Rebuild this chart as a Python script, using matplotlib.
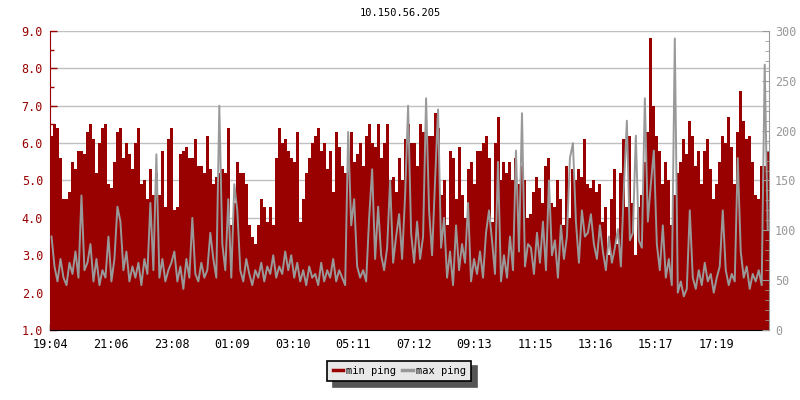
"""
Ping-Verlauf 10.150.56.205 (min / max ping) über 24 h
"""
import numpy as np
import matplotlib
matplotlib.use('Agg')
from matplotlib import pyplot as plt
from matplotlib.ticker import MultipleLocator, FormatStrFormatter

# min ping, ein Wert je 6 min (linke Achse)
min_ping_1 = [6.2, 6.5, 6.4, 5.6, 4.5, 4.5, 4.7, 5.5, 5.3, 5.8, 5.8, 5.7, 6.3, 6.5, 6.1, 5.2, 6.0, 6.4, 6.5, 4.9,
              4.8, 5.5, 6.3, 6.4, 5.6, 6.0, 5.7, 5.3, 6.0, 6.4, 4.9, 5.0, 4.5, 5.3, 4.6, 5.2, 4.6, 5.8, 4.3, 6.1]
min_ping_2 = [6.4, 4.2, 4.3, 5.7, 5.8, 5.9, 5.6, 5.6, 6.1, 5.4, 5.4, 5.2, 6.2, 5.3, 4.9, 5.1, 5.2, 5.3, 5.2, 6.4,
              3.8, 4.4, 5.5, 5.2, 5.2, 4.9, 3.8, 3.5, 3.3, 3.8, 4.5, 4.3, 3.9, 4.3, 3.8, 5.6, 6.4, 6.0, 6.1, 5.8]
min_ping_3 = [5.6, 5.5, 6.3, 3.9, 4.5, 5.2, 5.6, 6.0, 6.2, 6.4, 5.8, 6.0, 5.3, 5.8, 4.7, 6.3, 5.9, 5.4, 5.2, 5.5,
              6.3, 5.5, 5.7, 6.0, 5.4, 6.2, 6.5, 6.0, 5.9, 6.5, 5.6, 6.0, 6.5, 5.0, 5.1, 4.7, 5.6, 5.0, 6.1, 6.5]
min_ping_4 = [6.0, 6.0, 5.4, 6.5, 6.3, 6.1, 6.2, 6.2, 6.8, 6.4, 4.6, 5.0, 3.8, 5.8, 5.6, 4.5, 5.9, 4.6, 4.0, 5.3,
              5.5, 4.9, 5.8, 5.8, 6.0, 6.2, 5.6, 3.9, 6.0, 6.7, 5.0, 5.5, 5.2, 5.5, 5.0, 5.6, 4.9, 5.4, 5.0, 4.0]
min_ping_5 = [4.1, 4.7, 5.1, 4.8, 4.4, 5.4, 5.6, 4.4, 4.3, 5.0, 4.5, 3.8, 5.4, 4.0, 5.3, 5.0, 5.3, 5.1, 6.1, 4.9,
              4.8, 5.0, 4.7, 4.9, 3.9, 4.3, 3.0, 4.5, 5.3, 3.3, 5.2, 6.1, 4.3, 6.2, 4.4, 3.0, 4.3, 4.6, 5.5, 6.3]
min_ping_6 = [8.8, 7.0, 6.2, 5.8, 4.9, 5.5, 5.0, 3.8, 4.6, 5.2, 5.5, 6.1, 5.7, 6.6, 6.2, 5.4, 5.8, 4.9, 5.8, 6.1,
              5.3, 4.5, 4.9, 5.5, 6.2, 6.0, 6.7, 5.9, 4.9, 6.3, 7.4, 6.6, 6.1, 6.2, 5.5, 4.6, 4.5, 5.4, 5.4, 5.8]

# max ping, gleiche Zeitpunkte
max_ping_1 = [3.5, 2.7, 2.3, 2.9, 2.4, 2.2, 2.8, 2.5, 3.1, 2.4, 4.6, 2.6, 2.8, 3.3, 2.3, 2.9, 2.2, 2.6, 2.4, 3.5,
              2.3, 2.9, 4.3, 3.9, 2.6, 3.1, 2.3, 2.7, 2.4, 2.8, 2.2, 2.9, 2.5, 4.4, 2.6, 5.7, 2.4, 2.9, 2.3, 2.6]
max_ping_2 = [2.8, 3.1, 2.3, 2.7, 2.1, 2.9, 2.4, 4.0, 2.5, 2.3, 2.8, 2.4, 2.6, 3.6, 2.9, 2.4, 7.0, 3.3, 2.6, 4.5,
              2.4, 4.9, 4.2, 2.6, 2.3, 2.9, 2.5, 2.2, 2.6, 2.4, 2.8, 2.3, 2.7, 2.5, 3.0, 2.4, 2.7, 2.5, 3.1, 2.6]
max_ping_3 = [3.0, 2.4, 2.8, 2.3, 2.6, 2.2, 2.7, 2.4, 2.5, 2.2, 2.8, 2.3, 2.6, 2.4, 2.9, 2.3, 2.6, 2.4, 2.2, 6.3,
              3.8, 4.5, 2.7, 2.4, 2.6, 2.3, 4.0, 5.3, 2.9, 4.3, 3.0, 2.6, 3.2, 5.0, 2.8, 3.5, 4.1, 2.9, 4.6, 7.0]
max_ping_4 = [3.6, 2.8, 3.9, 2.9, 3.5, 7.2, 4.2, 3.0, 5.0, 6.9, 3.2, 4.0, 2.4, 3.1, 2.2, 3.8, 2.6, 3.3, 2.8, 4.4,
              2.3, 2.9, 2.5, 3.1, 2.4, 3.6, 4.2, 3.4, 2.5, 5.5, 2.3, 3.0, 2.4, 3.5, 2.6, 5.8, 3.1, 6.8, 2.7, 3.3]
max_ping_5 = [3.2, 2.5, 3.6, 2.8, 3.9, 2.6, 5.0, 3.0, 3.4, 2.4, 3.8, 2.9, 3.5, 5.6, 6.0, 3.9, 2.8, 4.2, 3.5, 3.6,
              4.1, 3.3, 2.9, 3.8, 3.1, 2.6, 3.5, 2.8, 3.2, 3.7, 2.7, 4.8, 6.6, 3.4, 3.6, 6.2, 3.4, 3.2, 7.2, 3.9]
max_ping_6 = [4.9, 5.8, 3.3, 2.6, 3.8, 2.4, 2.9, 2.2, 8.8, 2.0, 2.3, 1.9, 2.1, 4.2, 2.4, 2.1, 2.6, 2.2, 2.8, 2.3,
              2.5, 2.0, 2.4, 2.7, 4.2, 2.6, 2.2, 2.5, 2.3, 5.6, 3.1, 2.4, 2.7, 2.1, 2.5, 2.3, 2.6, 2.2, 8.1, 3.7]

tick_minutes = [0, 122, 244, 365, 486, 607, 728, 849, 971, 1092, 1213, 1335]
tick_labels = ['19:04', '21:06', '23:08', '01:09', '03:10', '05:11', '07:12',
               '09:13', '11:15', '13:16', '15:17', '17:19']

ROT = '#990000'
GRAU = '#999999'


def main():
    min_ping = np.array(min_ping_1 + min_ping_2 + min_ping_3 + min_ping_4 + min_ping_5 + min_ping_6)
    max_ping = np.array(max_ping_1 + max_ping_2 + max_ping_3 + max_ping_4 + max_ping_5 + max_ping_6)
    n = len(min_ping)
    dt = 1440 / n
    t = np.arange(n + 1) * dt

    plt.rcParams['font.family'] = ['DejaVu Sans Mono']
    plt.rcParams['font.size'] = 8

    f = plt.figure(figsize=(8, 4), dpi=100)
    ax1 = f.add_axes([0.0625, 0.175, 0.899, 0.7475])

    ax1.fill_between(t, 1.0, np.append(min_ping, min_ping[-1]), step='post', color=ROT, lw=0, zorder=2)
    ax1.plot(t[:-1] + dt / 2, max_ping, color=GRAU, lw=1.4, zorder=3)

    ax1.set_xlim(0, 1440)
    ax1.set_ylim(1.0, 9.0)
    ax1.yaxis.set_major_locator(MultipleLocator(1.0))
    ax1.yaxis.set_minor_locator(MultipleLocator(0.5))
    ax1.yaxis.set_major_formatter(FormatStrFormatter('%.1f'))
    ax1.set_xticks(tick_minutes)
    ax1.set_xticklabels(tick_labels)
    ax1.grid(axis='y', color='#c0c0c0', lw=1, zorder=0)
    ax1.set_axisbelow(True)

    ax1.tick_params(axis='y', which='both', direction='in', colors=ROT, labelsize=8.5, pad=5)
    ax1.tick_params(axis='y', which='major', length=5, width=1)
    ax1.tick_params(axis='y', which='minor', length=3, width=1)
    ax1.tick_params(axis='x', direction='in', length=4, width=1, colors='black', labelsize=8.5, pad=6)
    ax1.spines['left'].set_color(ROT)
    ax1.spines['bottom'].set_color('black')
    ax1.spines['top'].set_visible(False)
    ax1.spines['right'].set_visible(False)

    ax2 = ax1.twinx()
    ax2.set_ylim(0, 300)
    ax2.yaxis.set_major_locator(MultipleLocator(50))
    ax2.yaxis.set_minor_locator(MultipleLocator(10))
    ax2.tick_params(axis='y', which='both', direction='in', colors=GRAU, labelsize=8.5, pad=4)
    ax2.tick_params(axis='y', which='major', length=5)
    ax2.tick_params(axis='y', which='minor', length=3)
    ax2.spines['right'].set_color(GRAU)
    for s in ['left', 'top', 'bottom']:
        ax2.spines[s].set_visible(False)

    f.suptitle('10.150.56.205', y=0.98, fontsize=7.5)

    handles = [plt.Line2D([], [], color=ROT, lw=2.5), plt.Line2D([], [], color=GRAU, lw=2.5)]
    leg = f.legend(handles, ['min ping', 'max ping'], loc='center', bbox_to_anchor=(0.499, 0.0725), ncol=2,
                   frameon=True, fancybox=False, shadow={'ox': 4, 'oy': -4, 'color': '#555555', 'alpha': 1.0},
                   edgecolor='black', facecolor='#e8e8e8', framealpha=1, handlelength=1.0,
                   handletextpad=0.3, columnspacing=0.6, borderpad=0.5, fontsize=7.5)
    leg.get_frame().set_linewidth(1.2)

    f.savefig('out.png', dpi=100)


if __name__ == '__main__':
    main()
